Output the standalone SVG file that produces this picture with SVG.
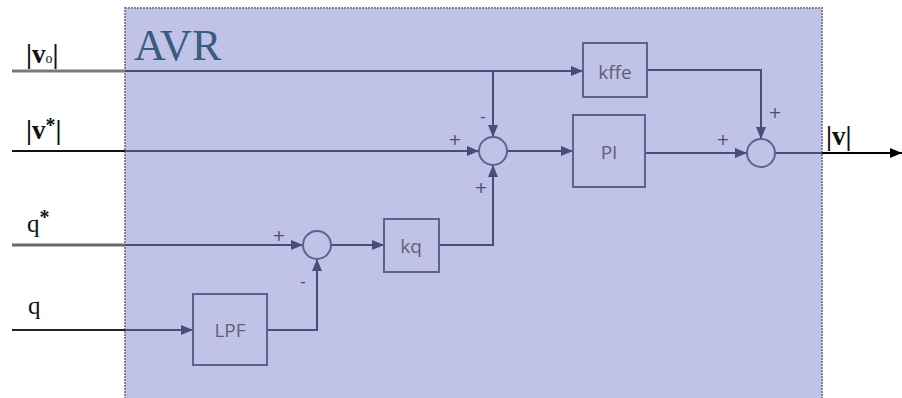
<svg xmlns="http://www.w3.org/2000/svg" width="902" height="398" viewBox="0 0 902 398">
<style>
.blk{fill:none;stroke:#5f6190;stroke-width:2}
.sum{fill:none;stroke:#5f6190;stroke-width:2}
.ln{fill:none;stroke:#4a4c7a;stroke-width:2}
.btxt{font-family:"Open Sans","DejaVu Sans",sans-serif;font-size:19px;fill:#5e5e78;text-anchor:middle}
.sign{font-family:"DejaVu Sans",sans-serif;font-size:16px;fill:#4a4c7a;text-anchor:middle}
.lbl{font-family:"Liberation Serif",serif;font-size:27px;fill:#111;font-weight:bold}
.lbn{font-family:"Liberation Serif",serif;font-size:25px;fill:#111;font-weight:normal}
</style>
<defs>
<marker id="ah" markerUnits="userSpaceOnUse" markerWidth="12" markerHeight="10" refX="12" refY="5" orient="auto">
<path d="M0,0 L12,5 L0,10 Z" fill="#4a4c7a"/>
</marker>
<marker id="ahk" markerUnits="userSpaceOnUse" markerWidth="12" markerHeight="10" refX="12" refY="5" orient="auto">
<path d="M0,0 L12,5 L0,10 Z" fill="#000"/>
</marker>
</defs>
<rect x="0" y="0" width="902" height="398" fill="#fff"/>
<g id="avr">
<rect x="125" y="8" width="697" height="400" fill="#c1c2e7" stroke="#858599" stroke-width="2" stroke-dasharray="2 1"/>
<text x="134" y="60" font-family="Liberation Serif,serif" font-size="44" fill="#3a5c7e">AVR</text>
</g>
<g id="connectors">
<line x1="12" y1="71" x2="125" y2="71" stroke="#7a7a7a" stroke-width="3"/>
<path class="ln" d="M125,71 H583" marker-end="url(#ah)" stroke-width="3"/>
<path class="ln" d="M493,71 V137" marker-end="url(#ah)"/>
<path class="ln" d="M647,70 H761 V139" marker-end="url(#ah)" stroke-width="3"/>
<line x1="12" y1="151" x2="125" y2="151" stroke="#111" stroke-width="2"/>
<path class="ln" d="M125,151 H479" marker-end="url(#ah)"/>
<path class="ln" d="M507,151 H573" marker-end="url(#ah)"/>
<path class="ln" d="M645,153 H747" marker-end="url(#ah)"/>
<line x1="775" y1="153" x2="822" y2="153" stroke="#4a4c7a" stroke-width="2"/>
<path d="M822,153 H902" fill="none" stroke="#000" stroke-width="2" marker-end="url(#ahk)"/>
<line x1="12" y1="245" x2="125" y2="245" stroke="#6a6a6a" stroke-width="3"/>
<path class="ln" d="M125,245 H303" marker-end="url(#ah)"/>
<path class="ln" d="M331,245 H384" marker-end="url(#ah)"/>
<path class="ln" d="M439,245 H493 V165" marker-end="url(#ah)"/>
<line x1="12" y1="330" x2="125" y2="330" stroke="#222" stroke-width="2"/>
<path class="ln" d="M125,330 H193" marker-end="url(#ah)"/>
<path class="ln" d="M267,330 H317 V259" marker-end="url(#ah)"/>
</g>
<g id="kffe"><rect class="blk" x="583" y="43" width="64" height="54"/><text class="btxt" x="615" y="79">kffe</text></g>
<g id="pi"><rect class="blk" x="573" y="115" width="72" height="72"/><text class="btxt" x="609" y="159">PI</text></g>
<g id="kq"><rect class="blk" x="384" y="219" width="55" height="53"/><text class="btxt" x="411" y="253">kq</text></g>
<g id="lpf"><rect class="blk" x="193" y="294" width="74" height="71"/><text class="btxt" x="230" y="337">LPF</text></g>
<g id="sum1"><circle class="sum" cx="493" cy="151" r="14"/></g>
<g id="sum2"><circle class="sum" cx="761" cy="153" r="14"/></g>
<g id="sum3"><circle class="sum" cx="317" cy="245" r="14"/></g>
<g id="signs">
<text class="sign" x="483" y="122">-</text>
<text class="sign" x="455" y="145">+</text>
<text class="sign" x="481" y="193">+</text>
<text class="sign" x="723" y="145">+</text>
<text class="sign" x="775" y="118">+</text>
<text class="sign" x="279" y="241">+</text>
<text class="sign" x="303" y="287">-</text>
</g>
<g id="labels">
<text class="lbl" x="26" y="63">|v<tspan font-size="14" font-weight="normal">o</tspan>|</text>
<text class="lbl" x="26" y="139">|v<tspan font-size="20" dy="-7">*</tspan><tspan dy="7">|</tspan></text>
<text class="lbn" x="27" y="232">q<tspan font-size="20" dy="-8" font-weight="bold">*</tspan></text>
<text class="lbn" x="28" y="314">q</text>
<text class="lbl" x="826" y="145">|v|</text>
</g>
</svg>
